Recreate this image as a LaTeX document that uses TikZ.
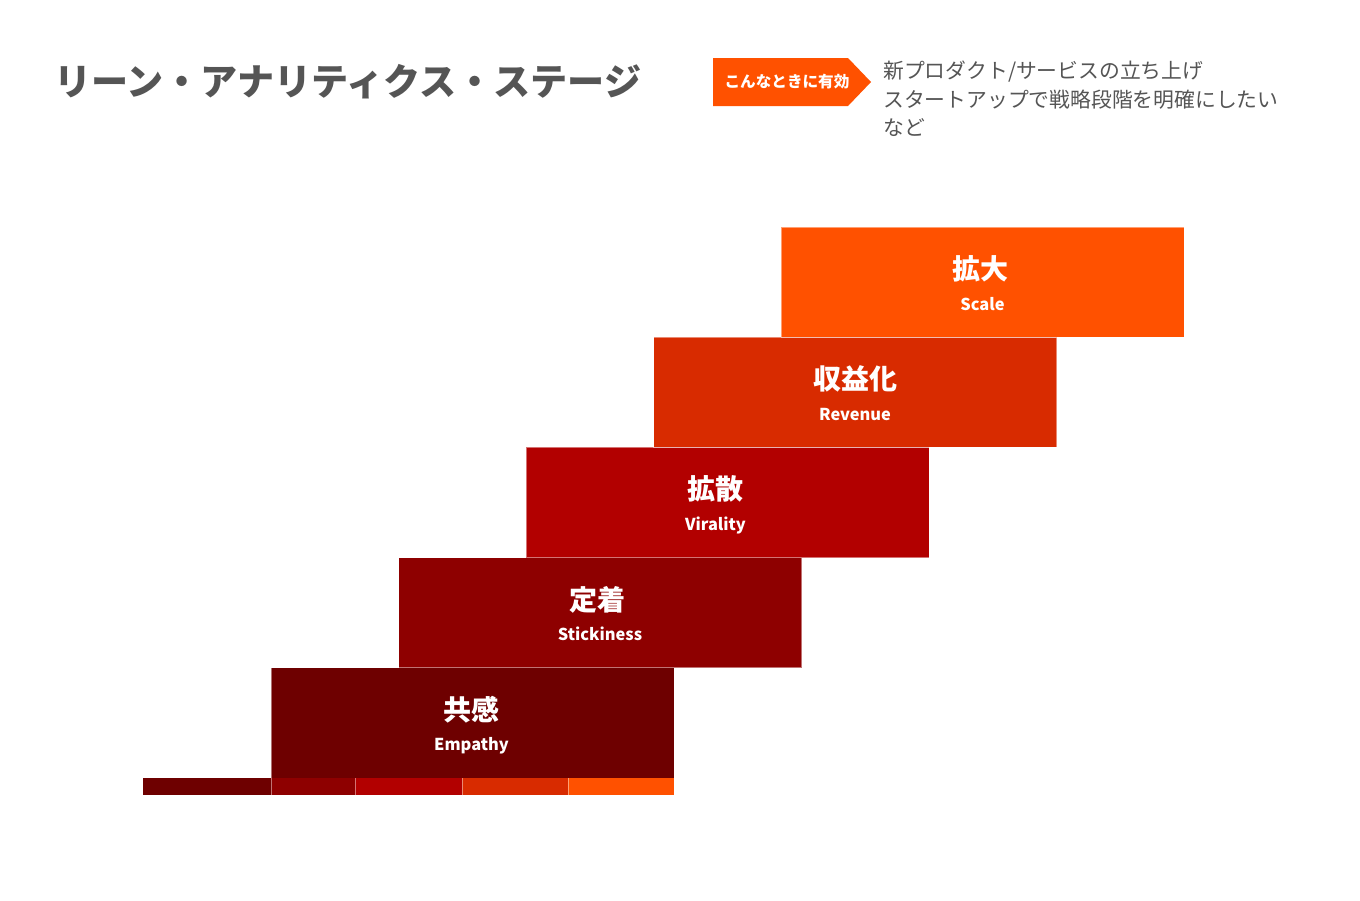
\documentclass[tikz,border=0pt]{standalone}
\usepackage{fontspec}
\setmainfont{Noto Sans CJK JP}
\usepackage{tikz}
\usetikzlibrary{positioning,calc}
\definecolor{stageA}{HTML}{6E0000}
\definecolor{stageB}{HTML}{8E0000}
\definecolor{stageC}{HTML}{B20000}
\definecolor{stageD}{HTML}{D82B00}
\definecolor{stageE}{HTML}{FF5100}
\definecolor{inkgray}{HTML}{555555}
\tikzset{
    stagebox/.style={rectangle, anchor=south west, minimum width=403pt, minimum height=110.2pt,
        inner sep=0pt, outer sep=0pt, draw=white, draw opacity=0.45, line width=0.8pt},
    kanji/.style={anchor=base, text=white, font=\fontsize{28}{30}\selectfont\bfseries, inner sep=0pt},
    latin/.style={anchor=base, text=white, font=\fontsize{16.4}{18}\selectfont\bfseries, inner sep=0pt},
    note/.style={anchor=base west, text=inkgray, font=\fontsize{20.8}{24}\selectfont, inner sep=0pt}
}

\begin{document}
\begin{tikzpicture}[x=1pt, y=-1pt]
        \useasboundingbox (0,0) rectangle (1360,900);
        \fill[white] (0,0) rectangle (1360,900);

        % heading
        \node[anchor=base west, inner sep=0pt, text=inkgray,
            font=\fontsize{37.1}{40}\selectfont\bfseries] (title) at (54,95) {リーン・アナリティクス・ステージ};

        % badge and its note
        \fill[stageE] (713,58) -- (848,58) -- (871,82) -- (848,106) -- (713,106) -- cycle;
        \node[text=white, inner sep=0pt, font=\fontsize{15.6}{18}\selectfont\bfseries] (badge) at (787,82) {こんなときに有効};
        \node[note] (n1) at (883,78) {新プロダクト/サービスの立ち上げ};
        \node[note] (n2) at (883,107) {スタートアップで戦略段階を明確にしたい};
        \node[note] (n3) at (883,135) {など};

        % steps
        \node[stagebox, fill=stageA] (s1) at (271,778) {};
        \node[stagebox, fill=stageB] (s2) at ([xshift=127.5pt]s1.north west) {};
        \node[stagebox, fill=stageC] (s3) at ([xshift=127.5pt]s2.north west) {};
        \node[stagebox, fill=stageD] (s4) at ([xshift=127.5pt]s3.north west) {};
        \node[stagebox, fill=stageE] (s5) at ([xshift=127.5pt]s4.north west) {};

        \node[kanji] (s1k) at ([xshift=-1.5pt, yshift=-52.5pt]s1.north) {共感};
        \node[latin] (s1l) at ([xshift=-1pt, yshift=-83pt]s1.north) {Empathy};
        \node[kanji] (s2k) at ([xshift=-2.5pt, yshift=-52.5pt]s2.north) {定着};
        \node[latin] (s2l) at ([yshift=-83pt]s2.north) {Stickiness};
        \node[kanji] (s3k) at ([xshift=-12pt, yshift=-52.5pt]s3.north) {拡散};
        \node[latin] (s3l) at ([xshift=-12pt, yshift=-83pt]s3.north) {Virality};
        \node[kanji] (s4k) at ([yshift=-52.5pt]s4.north) {収益化};
        \node[latin] (s4l) at ([yshift=-83pt]s4.north) {Revenue};
        \node[kanji] (s5k) at ([xshift=-2pt, yshift=-52.5pt]s5.north) {拡大};
        \node[latin] (s5l) at ([yshift=-83pt]s5.north) {Scale};

        % base strip
        \fill[stageA] (143,778) rectangle (271,795);
        \fill[stageB] (271,778) rectangle (355,795);
        \fill[stageC] (355,778) rectangle (462,795);
        \fill[stageD] (462,778) rectangle (568,795);
        \fill[stageE] (568,778) rectangle (674,795);
        \draw[white, opacity=0.45, line width=0.8pt] (143,795) -- (674,795) -- (674,778);
        \draw[white, opacity=0.45, line width=0.8pt] (271,778) -- (271,795) (355,778) -- (355,795)
            (462,778) -- (462,795) (568,778) -- (568,795);
\end{tikzpicture}
\end{document}
